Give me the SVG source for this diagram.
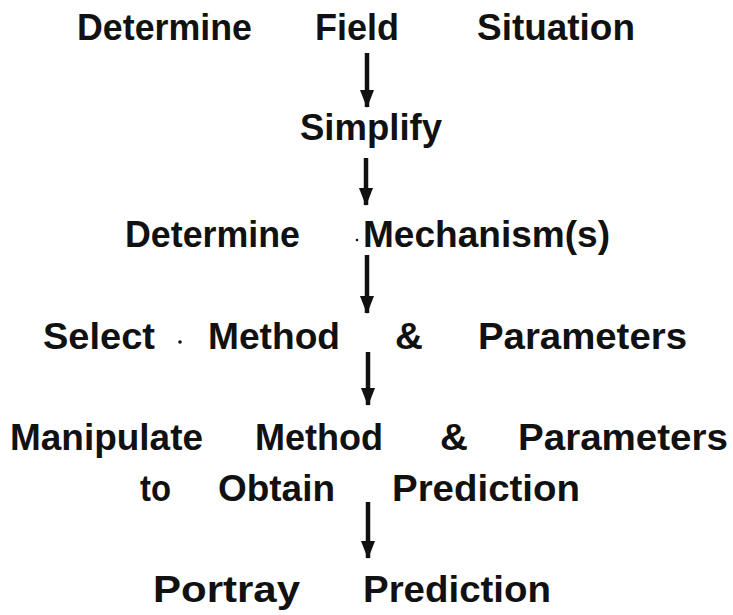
<svg xmlns="http://www.w3.org/2000/svg" width="733" height="615" viewBox="0 0 733 615">
<style>
text{font-family:"Liberation Sans",Arial,sans-serif;font-weight:bold;font-size:37px;fill:#111}
.shaft{stroke:#111;stroke-width:4.5;fill:none}
</style>
<defs>
<marker id="ah" markerUnits="userSpaceOnUse" markerWidth="18" markerHeight="14" refX="17" refY="7" orient="auto" viewBox="0 0 18 14">
<path d="M0,0 L18,7 L0,14 Z" fill="#111"/>
</marker>
</defs>
<rect width="733" height="615" fill="#fff"/>
<g id="n1">
<text x="77" y="40" textLength="175" lengthAdjust="spacingAndGlyphs">Determine</text>
<text x="315" y="40" textLength="84" lengthAdjust="spacingAndGlyphs">Field</text>
<text x="477" y="40" textLength="158" lengthAdjust="spacingAndGlyphs">Situation</text>
</g>
<g id="n2">
<text x="300" y="140" textLength="142" lengthAdjust="spacingAndGlyphs">Simplify</text>
</g>
<g id="n3">
<text x="125" y="247" textLength="175" lengthAdjust="spacingAndGlyphs">Determine</text>
<circle cx="357" cy="240" r="1.3" fill="#111"/>
<text x="363" y="247" textLength="247" lengthAdjust="spacingAndGlyphs">Mechanism(s)</text>
</g>
<g id="n4">
<text x="43" y="349" textLength="112" lengthAdjust="spacingAndGlyphs">Select</text>
<circle cx="180" cy="342" r="1.8" fill="#111"/>
<text x="208" y="349" textLength="132" lengthAdjust="spacingAndGlyphs">Method</text>
<text x="395" y="349" textLength="28" lengthAdjust="spacingAndGlyphs">&amp;</text>
<text x="478" y="349" textLength="209" lengthAdjust="spacingAndGlyphs">Parameters</text>
</g>
<g id="n5">
<text x="10" y="450" textLength="193" lengthAdjust="spacingAndGlyphs">Manipulate</text>
<text x="255" y="450" textLength="128" lengthAdjust="spacingAndGlyphs">Method</text>
<text x="440" y="450" textLength="28" lengthAdjust="spacingAndGlyphs">&amp;</text>
<text x="518" y="450" textLength="210" lengthAdjust="spacingAndGlyphs">Parameters</text>
<text x="140" y="501" textLength="31" lengthAdjust="spacingAndGlyphs">to</text>
<text x="218" y="501" textLength="117" lengthAdjust="spacingAndGlyphs">Obtain</text>
<text x="392" y="501" textLength="188" lengthAdjust="spacingAndGlyphs">Prediction</text>
</g>
<g id="n6">
<text x="153" y="602" textLength="147" lengthAdjust="spacingAndGlyphs">Portray</text>
<text x="363" y="602" textLength="188" lengthAdjust="spacingAndGlyphs">Prediction</text>
</g>
<g id="connectors">
<line class="shaft" x1="367" y1="53" x2="367" y2="107" marker-end="url(#ah)"/>
<line class="shaft" x1="366" y1="158" x2="366" y2="205" marker-end="url(#ah)"/>
<line class="shaft" x1="367" y1="255" x2="367" y2="313" marker-end="url(#ah)"/>
<line class="shaft" x1="368" y1="352" x2="368" y2="405" marker-end="url(#ah)"/>
<line class="shaft" x1="368" y1="502" x2="368" y2="558" marker-end="url(#ah)"/>
</g>
</svg>
